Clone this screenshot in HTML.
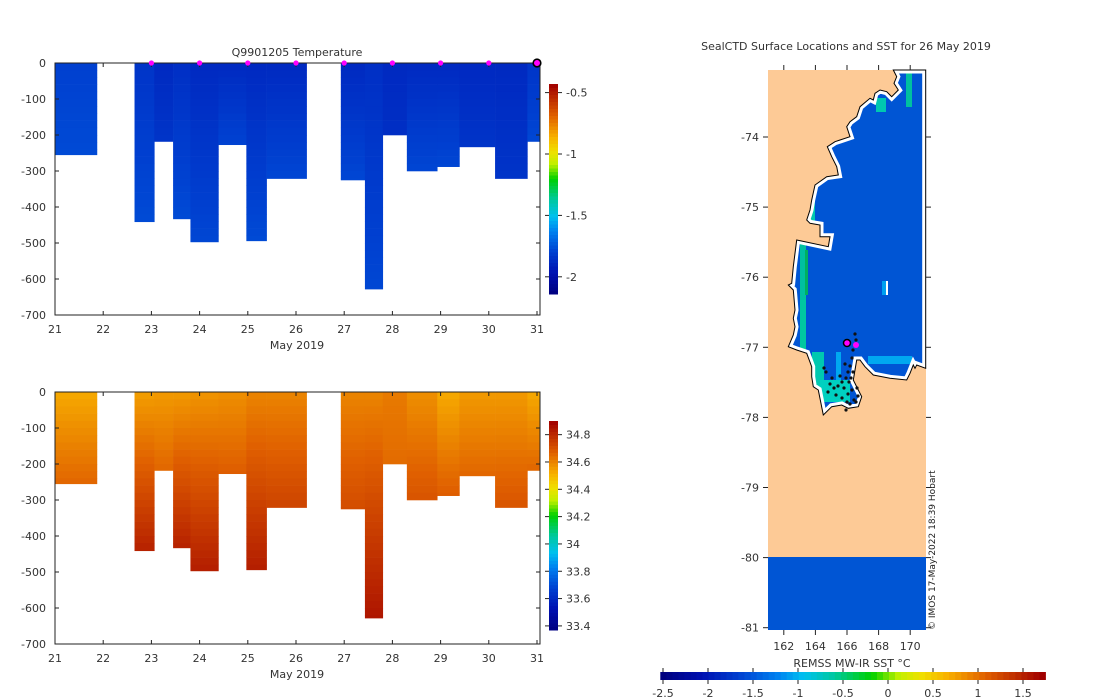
<!DOCTYPE html>
<html><head><meta charset="utf-8">
<style>
body{margin:0;background:#fff;}
svg{display:block;font-family:"DejaVu Sans","Liberation Sans",sans-serif;}
text{fill:#333;font-size:11px;}
</style></head>
<body>
<svg id="fig" width="1100" height="700" viewBox="0 0 1100 700" xmlns="http://www.w3.org/2000/svg">
<defs>
<clipPath id="oceanClip"><polygon id="oceanPolyClip" points=""/></clipPath>
</defs>
<g id="topChart"></g>
<g id="botChart"></g>
<g id="mapChart"></g>
</svg>
<script>
// ---- section data ----
const days = [21,22,23,24,25,26,27,28,29,30,31];
const depthTicks = [0,100,200,300,400,500,600,700];
const colStart = [21.0,22.65,23.06,23.45,23.81,24.39,24.97,25.39,26.93,27.43,27.8,28.3,28.93,29.39,30.13,30.8];
const colEnd   = [21.87,23.06,23.45,23.81,24.39,24.97,25.39,26.22,27.43,27.8,28.3,28.93,29.39,30.13,30.8,31.06];
const colDepth = [255,441,218,433,497,227,494,321,325,628,200,300,288,233,321,218];
const tempSurf = [-1.8,-1.84,-1.88,-1.86,-1.88,-1.88,-1.88,-1.88,-1.88,-1.86,-1.88,-1.88,-1.88,-1.88,-1.88,-1.84];
const tempDeep = [-1.77,-1.77,-1.84,-1.77,-1.78,-1.79,-1.77,-1.78,-1.78,-1.78,-1.86,-1.78,-1.78,-1.84,-1.84,-1.78];
const salSurf  = [34.53,34.55,34.56,34.56,34.57,34.58,34.6,34.6,34.6,34.6,34.62,34.58,34.53,34.56,34.56,34.53];
const salDeep  = [34.66,34.82,34.66,34.82,34.83,34.68,34.83,34.74,34.72,34.85,34.65,34.7,34.68,34.66,34.7,34.66];
const profileDays = [23,24,25,26,27,28,29,30];
const lastProfileDay = 31;
const tempCbTicks = [-0.5,-1,-1.5,-2];
const salCbTicks = [34.8,34.6,34.4,34.2,34,33.8,33.6,33.4];
const sstTicks = [-2.5,-2,-1.5,-1,-0.5,0,0.5,1,1.5];
const lonTicks = [162,164,166,168,170];
const latTicks = [-74,-75,-76,-77,-78,-79,-80,-81];

const NS='http://www.w3.org/2000/svg';
function mk(tag,attrs,parent,txt){const e=document.createElementNS(NS,tag);for(const k in attrs)e.setAttribute(k,attrs[k]);if(txt!==undefined)e.textContent=txt;parent.appendChild(e);return e;}
const stops=[[0,[0,0,127]],[0.1,[0,16,176]],[0.2,[0,64,208]],[0.3,[0,128,240]],[0.37,[0,192,240]],[0.45,[0,200,160]],[0.55,[0,208,0]],[0.62,[192,240,0]],[0.68,[240,224,0]],[0.75,[248,176,0]],[0.85,[224,96,0]],[1,[160,0,0]]];
function cmap(t){t=Math.max(0,Math.min(1,t));for(let i=1;i<stops.length;i++){if(t<=stops[i][0]){const a=stops[i-1],b=stops[i];const f=(t-a[0])/(b[0]-a[0]);return 'rgb('+a[1].map((v,j)=>Math.round(v+(b[1][j]-v)*f)).join(',')+')';}}return 'rgb(160,0,0)';}

function section(g,y0,surf,deep,vmin,vmax,cbTop,cbBot,cbTicks,title,markers,pfx){
  const x=d=>55+(d-21)*48.2, y=z=>y0+z*0.36;
  for(let i=0;i<colStart.length;i++){
    const cg=mk('g',{},g);
    
    
    const step=20;
    for(let z=0;z<colDepth[i];z+=step){
      const z2=Math.min(z+step,colDepth[i]);
      const v=surf[i]+(deep[i]-surf[i])*((z+z2)/2/colDepth[i]);
      mk('rect',{x:x(colStart[i]),y:y(z),width:x(colEnd[i])-x(colStart[i])+0.3,height:y(z2)-y(z)+0.3,fill:cmap((v-vmin)/(vmax-vmin))},cg);
    }
  }
  const ax=mk('g',{},g);
  mk('rect',{x:55,y:y(0),width:485,height:y(700)-y(0),fill:'none',stroke:'#222','stroke-width':1},ax);
  depthTicks.forEach(d=>{mk('line',{x1:55,x2:59,y1:y(d),y2:y(d),stroke:'#222'},ax);mk('line',{x1:536,x2:540,y1:y(d),y2:y(d),stroke:'#222'},ax);
    mk('text',{x:46,y:y(d)+4,'text-anchor':'end'},ax,d===0?'0':'-'+d);});
  days.forEach(d=>{mk('line',{x1:x(d),x2:x(d),y1:y(700),y2:y(700)-4,stroke:'#222'},ax);mk('line',{x1:x(d),x2:x(d),y1:y(0),y2:y(0)+4,stroke:'#222'},ax);
    mk('text',{x:x(d),y:y(700)+18,'text-anchor':'middle'},ax,String(d));});
  const xl=mk('text',{x:297,y:y(700)+34,'text-anchor':'middle'},g,'May 2019');
  
  if(title){const t=mk('text',{x:297,y:y0-7,'text-anchor':'middle'},g,title);}
  if(markers){profileDays.forEach(d=>{const c=mk('circle',{cx:x(d),cy:y(0),r:2.6,fill:'#ff00ff'},g);});
    const lc=mk('circle',{cx:x(lastProfileDay),cy:y(0),r:3.8,fill:'#ff00ff',stroke:'#000','stroke-width':1.6},g);}
  const cb=mk('g',{},g);
  const n=60;for(let k=0;k<n;k++){const t0=k/n;mk('rect',{x:549,y:cbBot-(k+1)*(cbBot-cbTop)/n,width:9,height:(cbBot-cbTop)/n+0.5,fill:cmap(t0+0.5/n)},cb);}
  cbTicks.forEach(v=>{const yy=cbBot-(v-vmin)/(vmax-vmin)*(cbBot-cbTop);mk('line',{x1:558,x2:562,y1:yy,y2:yy,stroke:'#222'},cb);mk('line',{x1:545,x2:549,y1:yy,y2:yy,stroke:'#222'},cb);mk('text',{x:566,y:yy+4},cb,String(v));});
}
section(document.getElementById('topChart'),63,tempSurf,tempDeep,-2.14,-0.43,84,294,tempCbTicks,'Q9901205  Temperature',true,'temperature');
section(document.getElementById('botChart'),392,salSurf,salDeep,33.37,34.9,421,630,salCbTicks,null,false,'salinity');

// ---- map ----
const mg=document.getElementById('mapChart');
const lonX=l=>768+(l-161)*15.8, latY=l=>137+(-74-l)*70.1;
mk('text',{x:846,y:50,'text-anchor':'middle'},mg,'SealCTD Surface Locations and SST for 26 May 2019');
mk('rect',{x:768,y:70,width:158,height:560,fill:'#fdca96'},mg);
const coast=[[460,30],[470,50],[462,70],[475,90],[455,110],[440,95],[420,90],[405,100],[400,120],[390,115],[360,140],[350,170],[330,185],[320,200],[330,230],[300,240],[285,245],[262,260],[275,290],[290,320],[295,345],[260,350],[225,375],[215,420],[210,450],[200,480],[210,490],[240,495],[240,530],[270,530],[265,560],[170,540],[165,580],[160,620],[155,670],[145,675],[160,690],[165,750],[160,775],[165,800],[160,825],[145,860],[170,870],[200,880],[215,920],[215,950],[220,980],[235,990],[250,1065],[275,1040],[305,1035],[325,1045],[355,1040],[365,1010],[355,990],[340,960],[345,930],[350,900],[360,900],[375,920],[400,945],[450,955],[500,960],[510,940],[520,915],[525,925],[530,915],[557,925],[557,30]];
const pts=coast.map(p=>(740+p[0]/3).toFixed(1)+','+(60+p[1]/3).toFixed(1)).join(' ');
document.getElementById('oceanPolyClip').setAttribute('points',pts);
mk('polygon',{points:pts,fill:'#0055d4'},mg);
const og=mk('g',{'clip-path':'url(#oceanClip)'},mg);
[[810,185,5,40,'#00c8b0'],[827,143,5,15,'#00c8b0'],[800,240,6,70,'#00c0a0'],[805,250,3,45,'#00b060'],[800,300,6,60,'#00c8a0'],[812,352,12,40,'#00c8b0'],[820,380,30,22,'#00d0c0'],[836,352,5,28,'#00a8f0'],[876,98,10,14,'#00c8b0'],[906,72,6,35,'#00c0a0'],[868,356,44,8,'#00a8f0'],[882,281,5,14,'#00a0f0'],[886,281,2,14,'#ffffff']].forEach(r=>mk('rect',{x:r[0],y:r[1],width:r[2],height:r[3],fill:r[4]},og));
mk('polygon',{points:pts,fill:'none',stroke:'#fff','stroke-width':7},og);
mk('polygon',{points:pts,fill:'none',stroke:'#000','stroke-width':1},mg);
mk('rect',{x:768,y:557,width:158,height:73,fill:'#0055d4'},mg);
const dg=mk('g',{},mg);
[[855,334],[856,340],[853,350],[852,358],[850,366],[848,372],[846,378],[842,382],[838,386],[834,388],[830,384],[826,372],[824,368],[836,395],[842,398],[848,394],[852,390],[854,400],[850,404],[846,410],[856,402],[858,396],[844,388],[840,376],[845,364],[849,382],[832,378],[828,392],[851,378],[853,372],[847,402],[857,388]].forEach(p=>mk('circle',{cx:p[0],cy:p[1],r:1.6,fill:'#111'},dg));
const s1=mk('circle',{cx:847,cy:343,r:3.5,fill:'#ff00ff',stroke:'#000','stroke-width':1.5},mg);
mk('circle',{cx:856,cy:345,r:3,fill:'#ff00ff'},mg);
latTicks.forEach(l=>{const yy=latY(l);mk('line',{x1:763,x2:768,y1:yy,y2:yy,stroke:'#222'},mg);mk('line',{x1:926,x2:931,y1:yy,y2:yy,stroke:'#222'},mg);mk('text',{x:759,y:yy+4,'text-anchor':'end'},mg,String(l));});
lonTicks.forEach(l=>{const xx=lonX(l);mk('line',{x1:xx,x2:xx,y1:630,y2:635,stroke:'#222'},mg);mk('line',{x1:xx,x2:xx,y1:65,y2:70,stroke:'#222'},mg);mk('text',{x:xx,y:650,'text-anchor':'middle'},mg,String(l));});
mk('text',{x:0,y:0,transform:'translate(935,630) rotate(-90)','style':'font-size:9px;fill:#222'},mg,'© IMOS 17-May-2022 18:39 Hobart');
const sg=mk('g',{},mg);
const sx=v=>663+(v+2.5)*90;
for(let k=0;k<64;k++){const v0=-2.53+k*(4.28/64);mk('rect',{x:sx(v0),y:672,width:4.28/64*90+0.4,height:8,fill:cmap(k/63)},sg);}
sstTicks.forEach(v=>{mk('line',{x1:sx(v),x2:sx(v),y1:680,y2:684,stroke:'#222'},sg);mk('line',{x1:sx(v),x2:sx(v),y1:668,y2:672,stroke:'#222'},sg);mk('text',{x:sx(v),y:697,'text-anchor':'middle'},sg,String(v));});
mk('text',{x:852,y:667,'text-anchor':'middle'},sg,'REMSS MW-IR SST °C');
</script>
</body></html>
